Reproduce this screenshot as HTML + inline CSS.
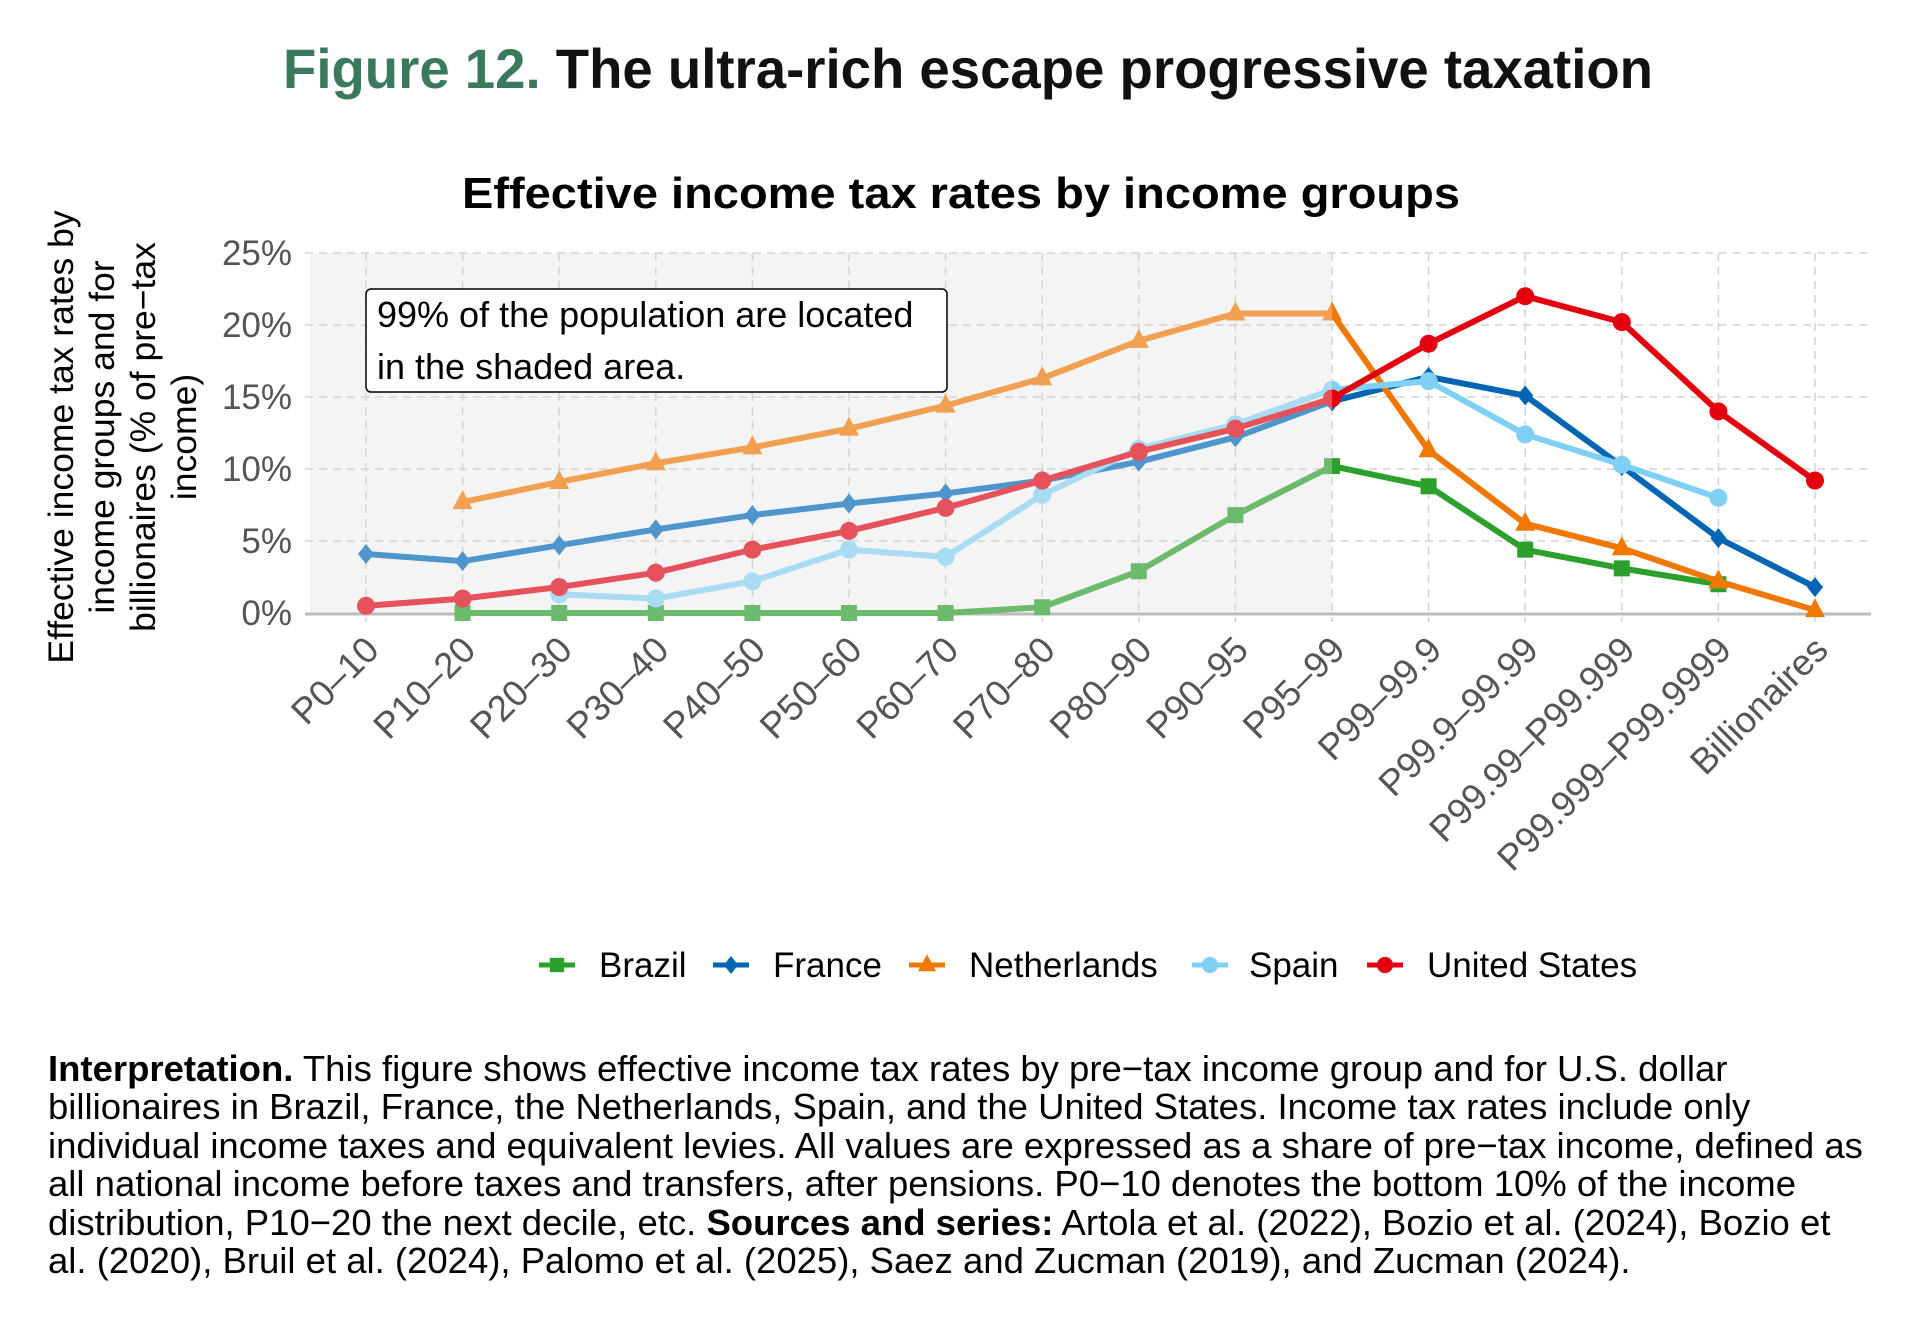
<!DOCTYPE html>
<html><head><meta charset="utf-8"><style>
html,body{margin:0;padding:0;background:#fff;}
svg{display:block;font-family:"Liberation Sans",Arial,sans-serif;}
</style></head><body>
<svg width="1920" height="1328" viewBox="0 0 1920 1328" xmlns="http://www.w3.org/2000/svg">
<defs>
<clipPath id="cl"><rect x="0" y="0" width="1332" height="1328"/></clipPath>
<clipPath id="cr"><rect x="1332" y="0" width="600" height="1328"/></clipPath>
</defs>
<text x="968" y="88" text-anchor="middle" font-size="56" font-weight="bold" textLength="1370" lengthAdjust="spacingAndGlyphs"><tspan fill="#3a7a5c">Figure 12.</tspan><tspan fill="#111"> The ultra-rich escape progressive taxation</tspan></text>
<text x="961" y="208" text-anchor="middle" font-size="44" font-weight="bold" fill="#000" textLength="998" lengthAdjust="spacingAndGlyphs">Effective income tax rates by income groups</text>
<rect x="310" y="253" width="1022" height="360" fill="#f4f4f4"/>
<g stroke="#d4d4d4" stroke-width="1.5" stroke-dasharray="8,6" fill="none" id="grid"></g>
<line x1="305" y1="614" x2="1871" y2="614" stroke="#bbb" stroke-width="3"/>
<g font-size="35" fill="#555" text-anchor="end" id="yt"></g>
<g font-size="35.5" fill="#000" text-anchor="middle" transform="translate(123,437) rotate(-90)">
<text x="0" y="-50">Effective income tax rates by</text>
<text x="0" y="-9">income groups  and for</text>
<text x="0" y="32">billionaires (% of pre−tax</text>
<text x="0" y="73">income)</text>
</g>
<g font-size="36.5" fill="#555" text-anchor="end" id="xt"></g>
<g id="series"></g>
<rect x="366" y="289" width="581" height="103" rx="5" fill="#fff" stroke="#000" stroke-width="1.5"/>
<text x="377" y="327" font-size="36" fill="#000">99% of the population are located</text>
<text x="377" y="379" font-size="36" fill="#000">in the shaded area.</text>
<g font-size="35" fill="#000" id="leg"></g>
<g font-size="36.5" fill="#000">
<text x="48" y="1081"><tspan font-weight="bold">Interpretation.</tspan> This figure shows effective income tax rates by pre−tax income group and for U.S. dollar</text>
<text x="48" y="1119">billionaires in Brazil, France, the Netherlands, Spain, and the United States. Income tax rates include only</text>
<text x="48" y="1158">individual income taxes and equivalent levies. All values are expressed as a share of pre−tax income, defined as</text>
<text x="48" y="1196">all national income before taxes and transfers, after pensions. P0−10 denotes the bottom 10% of the income</text>
<text x="48" y="1235">distribution, P10−20 the next decile, etc. <tspan font-weight="bold">Sources and series:</tspan> Artola et al. (2022), Bozio et al. (2024), Bozio et</text>
<text x="48" y="1273">al. (2020), Bruil et al. (2024), Palomo et al. (2025), Saez and Zucman (2019), and Zucman (2024).</text>
</g>
</svg>
<script>
const NS="http://www.w3.org/2000/svg";
const X=i=>366+i*96.6, Y=v=>613-v*14.4;
function el(t,a,p,txt){const e=document.createElementNS(NS,t);for(const k in a)e.setAttribute(k,a[k]);if(txt!=null)e.textContent=txt;p.appendChild(e);return e;}
const grid=document.getElementById('grid');
for(let i=0;i<16;i++)el('line',{x1:X(i),y1:253,x2:X(i),y2:622},grid);
for(let v=5;v<=25;v+=5)el('line',{x1:305,y1:Y(v),x2:1871,y2:Y(v)},grid);
const yt=document.getElementById('yt');
for(let v=0;v<=25;v+=5)el('text',{x:292,y:Y(v)+12},yt,v+'%');
const labs=["P0–10","P10–20","P20–30","P30–40","P40–50","P50–60","P60–70","P70–80","P80–90","P90–95","P95–99","P99–99.9","P99.9–99.99","P99.99–P99.999","P99.999–P99.9999","Billionaires"];
const xt=document.getElementById('xt');
labs.forEach((l,i)=>{const g=el('g',{transform:`translate(${X(i)+15},${652}) rotate(-45)`},xt);el('text',{x:0,y:0},g,l);});
const N=null;
const S=[
["Brazil","#2ca02c","#6cba6c","sq",[N,0,0,0,0,0,0,0.4,2.9,6.8,10.2,8.8,4.4,3.1,2.0,N]],
["France","#0066b3","#4f96cc","di",[4.1,3.6,4.7,5.8,6.8,7.6,8.3,9.2,10.5,12.2,14.7,16.4,15.1,10.2,5.2,1.8]],
["Netherlands","#f07800","#f0a050","tr",[N,7.7,9.1,10.4,11.5,12.8,14.4,16.3,18.9,20.8,20.8,11.3,6.2,4.5,2.2,0.2]],
["Spain","#80d0f5","#a8dcf2","ci",[N,N,1.3,1.0,2.2,4.4,3.9,8.2,11.4,13.1,15.5,16.1,12.4,10.3,8.0,N]],
["United States","#e3000f","#e5525c","ci",[0.5,1.0,1.8,2.8,4.4,5.7,7.3,9.2,11.2,12.8,14.9,18.7,22.0,20.2,14.0,9.2]]];
function marker(p,t,x,y,c,s){s=s||1;
 if(t=="sq")el('rect',{x:x-8*s,y:y-8*s,width:16*s,height:16*s,fill:c},p);
 else if(t=="di")el('polygon',{points:`${x},${y-10*s} ${x+8*s},${y} ${x},${y+10*s} ${x-8*s},${y}`,fill:c},p);
 else if(t=="tr")el('polygon',{points:`${x},${y-12*s} ${x+10*s},${y+7*s} ${x-10*s},${y+7*s}`,fill:c},p);
 else el('circle',{cx:x,cy:y,r:9*s,fill:c},p);}
const ser=document.getElementById('series');
[["cl",2],["cr",1]].forEach(([clip,ci])=>{
 const g=el('g',{'clip-path':`url(#${clip})`},ser);
 S.forEach(s=>{const c=s[ci];const pts=[];s[4].forEach((v,i)=>{if(v!=null)pts.push([X(i),Y(v)]);});
  el('polyline',{points:pts.map(p=>p.join(',')).join(' '),fill:'none',stroke:c,'stroke-width':6,'stroke-linejoin':'round'},g);
  pts.forEach(p=>marker(g,s[3],p[0],p[1],c));});
});
const leg=document.getElementById('leg');
[[557,599],[731,773],[927,969],[1210,1249],[1385,1427]].forEach(([m,t],k)=>{const s=S[k];
 el('line',{x1:m-18,y1:965,x2:m+18,y2:965,stroke:s[1],'stroke-width':5},leg);
 marker(leg,s[3],m,965,s[1],0.9);
 el('text',{x:t,y:977},leg,s[0]);});
</script>
</body></html>
